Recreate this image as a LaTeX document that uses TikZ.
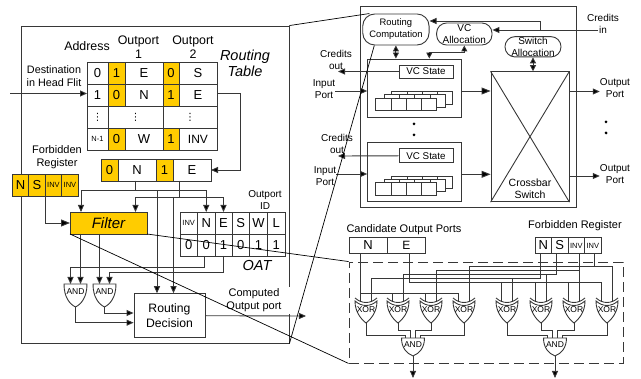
\documentclass[tikz,border=0pt]{standalone}
\usepackage{fontspec}
\setmainfont{Liberation Sans}
\newfontfamily\symfont{DejaVu Sans}
\usepackage{xcolor}
\usetikzlibrary{arrows.meta,positioning,calc}
\definecolor{PortYellow}{RGB}{255,204,0}
\definecolor{WireGray}{RGB}{55,55,55}
\tikzset{
 andgate/.pic={
  \draw[wire,fill=white] (-11.5,0) .. controls (-11.5,13) and (-6,20) .. (0,23) .. controls (6,20) and (11.5,13) .. (11.5,0) -- cycle;
  \node[gatetxt] (-lbl) at (0,8) {AND};
  \coordinate (-a) at (-5,0);
  \coordinate (-b) at (5,0);
  \coordinate (-in) at (0,0);
  \coordinate (-out) at (0,23);
 },
 xorgate/.pic={
  \draw[wire,fill=white] (-11,3) .. controls (-11,14) and (-5,21) .. (0,25) .. controls (5,21) and (11,14) .. (11,3) .. controls (4,9) and (-4,9) .. cycle;
  \draw[wire] (-11,0) .. controls (-4,6) and (4,6) .. (11,0);
  \node[gatetxt] (-lbl) at (0,12) {XOR};
  \coordinate (-a) at (-6,3);
  \coordinate (-b) at (5,3);
  \coordinate (-out) at (0,25);
 },
 bufstack/.pic={
  \foreach \dx/\dy in {16/-6.5,8.5/-3.3,0/0}
   \foreach \k in {0,1,2,3}
    \draw[wire,fill=white] ({\dx+\k*15.3},\dy) rectangle ++(15.3,12.7);
 }
}

\begin{document}
\begin{tikzpicture}[
 x=1pt,y=-1pt,
 wire/.style={draw=WireGray, line width=0.9pt},
 thin line/.style={draw=black, line width=0.7pt},
 arr/.style={wire, -{Triangle[length=7pt,width=6pt,fill=black]}},
 bigarr/.style={wire, -{Triangle[length=9pt,width=7pt,fill=black]}},
 dbl/.style={wire, {Triangle[length=6pt,width=6pt,fill=black]}-{Triangle[length=6pt,width=6pt,fill=black]}},
 cell/.style={wire, rectangle, fill=white, inner sep=0pt, outer sep=0pt, minimum height=22pt, font=\fontsize{13}{15}\selectfont},
 ycell/.style={cell, fill=PortYellow},
 tinycell/.style={font=\fontsize{7.5}{9}\selectfont},
 dotcell/.style={cell, font=\symfont\fontsize{10}{11}\selectfont},
 lbl/.style={align=center, inner sep=0pt, font=\fontsize{11}{13}\selectfont},
 biglbl/.style={align=center, inner sep=0pt, font=\fontsize{12.4}{14}\selectfont},
 rlbl/.style={align=center, inner sep=0pt, font=\fontsize{10}{12}\selectfont},
 itlbl/.style={align=center, inner sep=0pt, font=\fontsize{14.5}{16}\itshape\selectfont},
 gatetxt/.style={inner sep=0pt, font=\fontsize{8.5}{10}\selectfont},
 pill/.style={wire, rectangle, rounded corners=10pt, fill=white, align=center, inner sep=0pt, font=\fontsize{10}{12}\selectfont},
 dotnode/.style={circle, fill=black, inner sep=0pt, minimum size=3pt}
]
\useasboundingbox (0,0) rectangle (641,379);

% routing unit
\node[wire, rectangle, minimum width=268pt, minimum height=317pt, inner sep=0pt] (unit) at (155,184.5) {};

\node[biglbl] (addr) at (87,46) {Address};
\node[biglbl] (op1lbl) at (138.5,47) {Outport\\1};
\node[biglbl] (op2lbl) at (193,47) {Outport\\2};
\node[itlbl] (rtlbl) at (245,63) {Routing\\Table};
\node[lbl, font=\fontsize{10.8}{13}\selectfont] (dstlbl) at (54,76.5) {Destination\\in Head Flit};
\coordinate (dstin) at (10,93.5);

\node[cell, minimum width=21pt] (t1a) at (97.5,73) {0};
\node[ycell, minimum width=17pt, right=0pt of t1a] (t1b) {1};
\node[cell, minimum width=38pt, right=0pt of t1b] (t1c) {E};
\node[ycell, minimum width=16pt, right=0pt of t1c] (t1d) {0};
\node[cell, minimum width=38pt, right=0pt of t1d] (t1e) {S};
\node[cell, minimum width=21pt, below=0pt of t1a] (t2a) {1};
\node[ycell, minimum width=17pt, right=0pt of t2a] (t2b) {0};
\node[cell, minimum width=38pt, right=0pt of t2b] (t2c) {N};
\node[ycell, minimum width=16pt, right=0pt of t2c] (t2d) {1};
\node[cell, minimum width=38pt, right=0pt of t2d] (t2e) {E};
\node[dotcell, minimum width=21pt, below=0pt of t2a] (t3a) {⋮};
\node[dotcell, minimum width=55pt, right=0pt of t3a] (t3b) {⋮};
\node[dotcell, minimum width=54pt, right=0pt of t3b] (t3c) {⋮};
\node[cell, tinycell, minimum width=21pt, below=0pt of t3a] (t4a) {N-1};
\node[ycell, minimum width=17pt, right=0pt of t4a] (t4b) {0};
\node[cell, minimum width=38pt, right=0pt of t4b] (t4c) {W};
\node[ycell, minimum width=16pt, right=0pt of t4c] (t4d) {1};
\node[cell, font=\fontsize{12}{14}\selectfont, minimum width=38pt, right=0pt of t4d] (t4e) {INV};

\node[ycell, minimum width=17pt] (s0) at (109.5,170) {0};
\node[cell, minimum width=38pt, right=0pt of s0] (sn) {N};
\node[ycell, minimum width=17pt, right=0pt of sn] (s1) {1};
\node[cell, minimum width=38pt, right=0pt of s1] (se) {E};

\node[lbl] (fblbl) at (57,157.5) {Forbidden\\Register};
\node[ycell, minimum width=16.5pt] (fn) at (20.5,185) {N};
\node[ycell, minimum width=16.5pt, right=0pt of fn] (fs) {S};
\node[ycell, tinycell, minimum width=16.5pt, right=0pt of fs] (fi) {INV};
\node[ycell, tinycell, minimum width=16.5pt, right=0pt of fi] (fj) {INV};

\node[ycell, minimum width=77pt, font=\fontsize{15}{17}\itshape\selectfont] (filter) at (108.5,223) {Filter};

\node[rlbl] (oidlbl) at (265,200.5) {Outport\\ID};
\node[cell, tinycell, minimum width=17.5pt] (oinv) at (188.75,223) {INV};
\node[cell, minimum width=17.5pt, right=0pt of oinv] (on) {N};
\node[cell, minimum width=17pt, right=0pt of on] (oe) {E};
\node[cell, minimum width=17.5pt, right=0pt of oe] (os) {S};
\node[cell, minimum width=18pt, right=0pt of os] (ow) {W};
\node[cell, minimum width=17.5pt, right=0pt of ow] (ol) {L};
\node[cell, minimum width=17.5pt, below=0pt of oinv] (v1) {0};
\node[cell, minimum width=17.5pt, right=0pt of v1] (v2) {0};
\node[cell, minimum width=17pt, right=0pt of v2] (v3) {1};
\node[cell, minimum width=17.5pt, right=0pt of v3] (v4) {0};
\node[cell, minimum width=18pt, right=0pt of v4] (v5) {1};
\node[cell, minimum width=17.5pt, right=0pt of v5] (v6) {1};
\node[itlbl] (oatlbl) at (257,266) {OAT};

\pic (g1) at (75.5,284) {andgate};
\pic (g2) at (104.5,284) {andgate};
\node[wire, rectangle, minimum width=71pt, minimum height=44pt, inner sep=0pt, align=center, font=\fontsize{12.2}{15}\selectfont] (rd) at (169.5,315.7) {Routing\\Decision};
\node[lbl, fill=white, minimum width=80pt, minimum height=27pt] (cmplbl) at (254,300.5) {Computed\\Output port};
\coordinate (cmpout) at (306,316);

\coordinate (busN) at (0,190.5);
\coordinate (busE) at (0,197);
\coordinate (busP) at (0,267);
\coordinate (busQ) at (0,272);
\coordinate (fta) at ($(filter.north)+(-27.5,0)$);
\coordinate (ftb) at ($(filter.north)+(27,0)$);
\coordinate (rda) at ($(rd.north)+(-12.5,0)$);
\coordinate (rdb) at ($(rd.north)+(4,0)$);
\draw[arr] (dstin) -- (dstin -| t2a.west);
\draw[arr] ([yshift=1.5pt]t2e.east) -- ++(23,0) |- (se.east);
\draw[arr] ([xshift=-1.5pt]sn.south) |- (busN -| on.north) -- (on.north);
\draw[arr] ([xshift=-1.5pt]sn.south) |- (busN -| fta) -- (fta);
\draw[arr] (busN -| rda) -- (rda);
\draw[arr] ([xshift=-12.5pt]se.south) |- (busE -| oe.north) -- (oe.north);
\draw[arr] ([xshift=-12.5pt]se.south) |- (busE -| ftb) -- (ftb);
\draw[arr] (busE -| rdb) -- (rdb);
\draw[bigarr] (fi.south west) |- (filter.west);
\draw[arr] (g1-b |- filter.south) -- (g1-b);
\draw[arr] (g2-a |- filter.south) -- (g2-a);
\draw[arr] ([xshift=-2pt]v2.south) |- (busP -| g1-a) -- (g1-a);
\draw[arr] (v3.south) |- (busQ -| g2-b) -- (g2-b);
\draw[arr] (g1-out) |- ([yshift=-7pt]rd.west);
\draw[arr] (g2-out) |- ([yshift=2.7pt]rd.west);
\draw[arr] (rd.east) -- (cmpout);

% router
\node[wire, rectangle, minimum width=216pt, minimum height=201.3pt, inner sep=0pt] (router) at (468.7,107.3) {};
\node[pill, rounded corners=12pt, minimum width=66.3pt, minimum height=31pt, font=\fontsize{9.4}{12}\selectfont] (rc) at (395.9,29.5) {Routing\\Computation};
\node[pill, minimum width=55.3pt, minimum height=22pt] (vca) at (464.3,34) {VC\\Allocation};
\node[pill, minimum width=56pt, minimum height=20.3pt] (sa) at (533,46.8) {Switch\\Allocation};
\node[rlbl] (cin) at (603,23.5) {Credits\\in};
\coordinate (cinend) at (598,30);
\coordinate (cinj) at (540,30);

\node[wire, rectangle, minimum width=93.3pt, minimum height=58pt, inner sep=0pt] (vc1) at (414.3,88) {};
\node[wire, rectangle, minimum width=93.3pt, minimum height=58.7pt, inner sep=0pt] (vc2) at (414.3,172.3) {};
\node[wire, rectangle, minimum width=54pt, minimum height=13pt, inner sep=0pt, fill=white, font=\fontsize{9.8}{12}\selectfont] (st1) at (426,71.5) {VC State};
\node[wire, rectangle, minimum width=54pt, minimum height=13.7pt, inner sep=0pt, fill=white, font=\fontsize{9.8}{12}\selectfont] (st2) at (426,155.8) {VC State};
\pic at (375.7,98) {bufstack};
\pic at (375.7,182.5) {bufstack};
\node[dotnode] (d1) at (414,124) {};
\node[dotnode] (d2) at (414,135) {};
\node[dotnode] (d3) at (606,122) {};
\node[dotnode] (d4) at (606,133) {};

\node[wire, rectangle, minimum width=78pt, minimum height=130pt, inner sep=0pt] (xb) at (530,136.7) {};
\node[rlbl, font=\fontsize{10.5}{12.5}\selectfont] (xblbl) at (530,189) {Crossbar\\Switch};

\node[rlbl] (co1lbl) at (336,60) {Credits\\out};
\node[rlbl] (co2lbl) at (337,144) {Credits\\out};
\coordinate (co1) at (338,71.5);
\coordinate (co2) at (338,156);
\node[rlbl] (ip1) at (324,89.5) {Input\\Port};
\node[rlbl] (ip2) at (325,176) {Input\\Port};
\node[rlbl] (op1) at (615,88.5) {Output\\Port};
\node[rlbl] (op2) at (615,174) {Output\\Port};

\draw[arr] (cinend) -- (cinend -| vca.east);
\draw[arr] (cinj) |- ([yshift=8.5pt]rc.east);
\draw[dbl] (rc.south) -- (rc.south |- vc1.north);
\draw[dbl] (vca.south) -- ++(0,7) -| ([xshift=15pt]vc1.north);
\draw[dbl] (sa.south) -- (sa.south |- xb.north);
\draw[arr] (st1.west) -- (co1);
\draw[arr] (st2.west) -- (co2);
\draw[arr] ([yshift=-1.5pt]ip1.east) -- ([yshift=-1.5pt]ip1.east -| vc1.west);
\draw[arr] ([yshift=2pt]ip2.east) -- ([yshift=2pt]ip2.east -| vc2.west);
\draw[bigarr] ([yshift=-3pt]vc1.east) -- ([yshift=-3pt]vc1.east -| xb.west);
\draw[bigarr] ([yshift=-2pt]vc2.east) -- ([yshift=-2pt]vc2.east -| xb.west);
\draw[arr] ([yshift=-3pt]op1.west -| xb.east) -- ([yshift=-3pt]op1.west);
\draw[arr] ([yshift=-2pt]op2.west -| xb.east) -- ([yshift=-2pt]op2.west);
\draw[wire] (xb.north west) -- (xb.south east);
\draw[wire] (xb.north east) -- (xb.south west);

% filter detail
\node[lbl] (candlbl) at (404,230) {Candidate Output Ports};
\node[cell, minimum width=38pt, minimum height=15.6pt] (cn) at (368,245.5) {N};
\node[cell, minimum width=38.7pt, minimum height=15.6pt, font=\fontsize{12}{14}\selectfont, right=0pt of cn] (ce) {E};
\node[lbl] (fb2lbl) at (575,226) {Forbidden Register};
\node[cell, minimum width=16.5pt, minimum height=15.6pt] (gn) at (543.25,245.5) {N};
\node[cell, minimum width=16.5pt, minimum height=15.6pt, right=0pt of gn] (gs) {S};
\node[cell, tinycell, minimum width=16.5pt, minimum height=15.6pt, right=0pt of gs] (gi) {INV};
\node[cell, tinycell, minimum width=16.5pt, minimum height=15.6pt, right=0pt of gi] (gj) {INV};
\node[wire, rectangle, dash pattern=on 10pt off 5pt, minimum width=274pt, minimum height=101pt, inner sep=0pt] (dbox) at (486,312.5) {};

\pic (x1) at (366,298) {xorgate};
\pic (x2) at (398,298) {xorgate};
\pic (x3) at (431,298) {xorgate};
\pic (x4) at (464,298) {xorgate};
\pic (x5) at (507,298) {xorgate};
\pic (x6) at (541,298) {xorgate};
\pic (x7) at (574,298) {xorgate};
\pic (x8) at (607,298) {xorgate};
\pic[yscale=0.78] (a1) at (413,338) {andgate};
\pic[yscale=0.78] (a2) at (555,338) {andgate};
\coordinate (a1end) at (413,378);
\coordinate (a2end) at (555,378);

\coordinate (busC) at (0,293.3);
\coordinate (busF) at (0,282);
\coordinate (busG) at (0,278);
\coordinate (busH) at (0,274);
\coordinate (busI) at (0,270);
\coordinate (busJ) at (0,266);
\coordinate (gjb) at ($(gj.south)+(2,0)$);
\draw[wire] (cn.south -| x1-a) -- (x1-a);
\draw[wire] (busC -| x1-a) -- (busC -| x4-a);
\foreach \g in {x2,x3,x4}
 \draw[wire] (busC -| \g-a) -- (\g-a);
\draw[wire] ([xshift=3pt]ce.south) |- (busF -| x8-a) -- (x8-a);
\foreach \g in {x5,x6,x7}
 \draw[wire] (busF -| \g-a) -- (\g-a);
\draw[wire] ([xshift=-3pt]gn.south) |- (busG -| x1-b) -- (x1-b);
\draw[wire] (busG -| x5-b) -- (x5-b);
\draw[wire] ([xshift=-3pt]gs.south) |- (busH -| x2-b) -- (x2-b);
\draw[wire] (busH -| x6-b) -- (x6-b);
\draw[wire] (gi.south -| x7-b) -- (x7-b);
\draw[wire] (busI -| x7-b) -| (x3-b);
\draw[wire] (gjb) -- (busJ -| gjb);
\draw[wire] (x4-b) |- (busJ -| x8-b) -- (x8-b);
\draw[wire] (x1-out) -- ++(0,12) -| ([xshift=-8pt]a1-in);
\draw[wire] (x2-out) -- ++(0,7) -| ([xshift=-3pt]a1-in);
\draw[wire] (x3-out) -- ++(0,7) -| ([xshift=2pt]a1-in);
\draw[wire] (x4-out) -- ++(0,12) -| ([xshift=7pt]a1-in);
\draw[wire] (x5-out) -- ++(0,12) -| ([xshift=-7.5pt]a2-in);
\draw[wire] (x6-out) -- ++(0,7) -| ([xshift=-2.5pt]a2-in);
\draw[wire] (x7-out) -- ++(0,7) -| ([xshift=2.5pt]a2-in);
\draw[wire] (x8-out) -- ++(0,12) -| ([xshift=7.5pt]a2-in);
\draw[arr] (a1-out) -- (a1end);
\draw[arr] (a2-out) -- (a2end);

% zoom lines
\draw[thin line] (unit.north east) -- ([xshift=7pt]rc.north west);
\draw[thin line] (unit.south east) -- ([xshift=12pt]rc.south west);
\draw[thin line] (filter.south east) -- (dbox.north west);
\draw[thin line] (filter.south west) -- (dbox.south west);
\end{tikzpicture}
\end{document}
